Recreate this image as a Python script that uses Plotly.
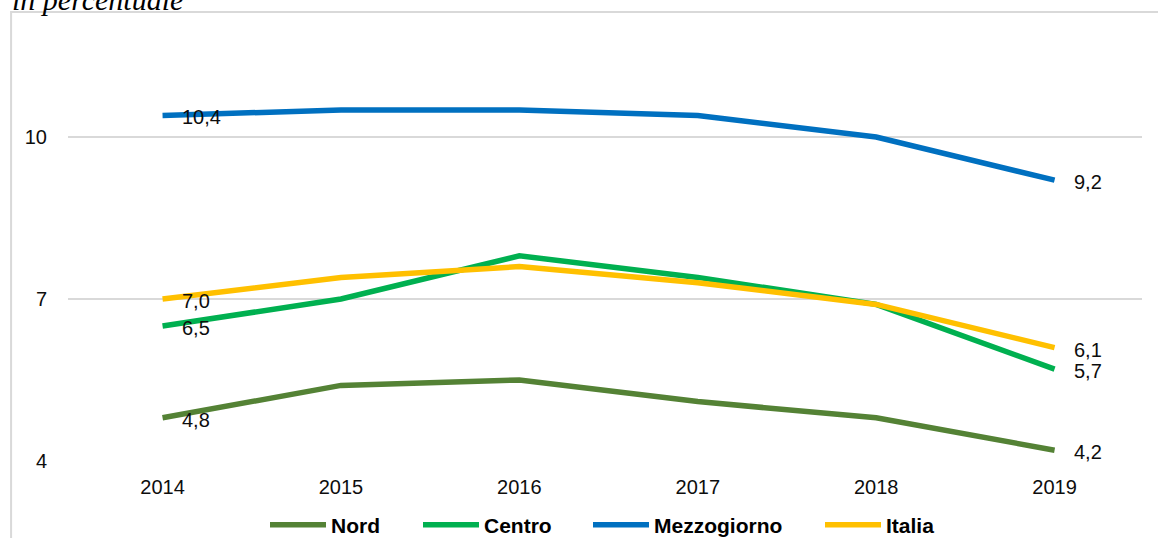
import plotly.graph_objects as go

years = ["2014", "2015", "2016", "2017", "2018", "2019"]
nord = [4.8, 5.4, 5.5, 5.1, 4.8, 4.2]
centro = [6.5, 7.0, 7.8, 7.4, 6.9, 5.7]
mezzogiorno = [10.4, 10.5, 10.5, 10.4, 10.0, 9.2]
italia = [7.0, 7.4, 7.6, 7.3, 6.9, 6.1]

series = [
    ("Nord", nord, "#548235"),
    ("Centro", centro, "#00B050"),
    ("Mezzogiorno", mezzogiorno, "#0070C0"),
    ("Italia", italia, "#FFC000"),
]

ytick_vals = [4, 7, 10]
title_text = "in percentuale"

W, H = 1158, 538
legend_left_px = [265, 418, 588, 820]
legend_ids = ["legend", "legend2", "legend3", "legend4"]

fig = go.Figure()
for (name, vals, color), lid in zip(series, legend_ids):
    fig.add_trace(go.Scatter(
        x=years, y=vals, name=name, mode="lines",
        line=dict(color=color, width=5.5),
        legend=lid,
    ))

annotations = []
for name, vals, color in series:
    for idx in (0, len(years) - 1):
        annotations.append(dict(
            x=idx, y=vals[idx], xref="x", yref="y",
            text=f"{vals[idx]:.1f}".replace(".", ","),
            showarrow=False, xanchor="left", yanchor="middle",
            xshift=17, yshift=-2,
            font=dict(family="Liberation Sans, Arial", size=20, color="#0d0d0d"),
        ))

annotations.append(dict(
    text=f"<i>{title_text}</i>", xref="paper", yref="paper",
    x=-0.054, y=(461 - 18) / 405, xanchor="left", yanchor="bottom",
    showarrow=False,
    font=dict(family="Liberation Serif, Times New Roman", size=30, color="#000"),
))

legend_common = dict(
    orientation="h", xref="container", yref="container",
    xanchor="left", y=1 - 525 / H, yanchor="middle",
    font=dict(family="Liberation Sans, Arial", size=21, color="#000", weight="bold"),
    itemwidth=56, bgcolor="rgba(0,0,0,0)",
)
legend_layout = {}
for lid, px in zip(legend_ids, legend_left_px):
    legend_layout[lid] = dict(legend_common, x=px / W)

fig.update_layout(
    width=W, height=H,
    margin=dict(l=68, r=16, t=56, b=77, autoexpand=False),
    paper_bgcolor="white", plot_bgcolor="white",
    showlegend=True,
    annotations=annotations,
    shapes=[dict(
        type="rect", xref="paper", yref="paper",
        x0=-0.053, x1=1.2, y0=-0.5, y1=(461 - 12) / 405,
        line=dict(color="#D9D9D9", width=2), fillcolor="rgba(0,0,0,0)",
        layer="below",
    )],
    **legend_layout,
)
fig.update_xaxes(
    type="category", range=[-0.53, 5.49], automargin=False,
    showgrid=False, showline=False, zeroline=False, ticks="",
    ticklabelstandoff=12,
    tickfont=dict(family="Liberation Sans, Arial", size=20, color="#0d0d0d"),
)
fig.update_yaxes(
    range=[4, 11.5], tickvals=ytick_vals, ticktext=[str(v) for v in ytick_vals],
    automargin=False,
    showgrid=True, gridcolor="#D9D9D9", gridwidth=2,
    showline=False, zeroline=False, ticks="",
    ticklabelstandoff=20,
    tickfont=dict(family="Liberation Sans, Arial", size=20, color="#0d0d0d"),
)

fig.write_html("out.html", config={"displayModeBar": False},
               post_script="document.body.style.margin='0px';")
